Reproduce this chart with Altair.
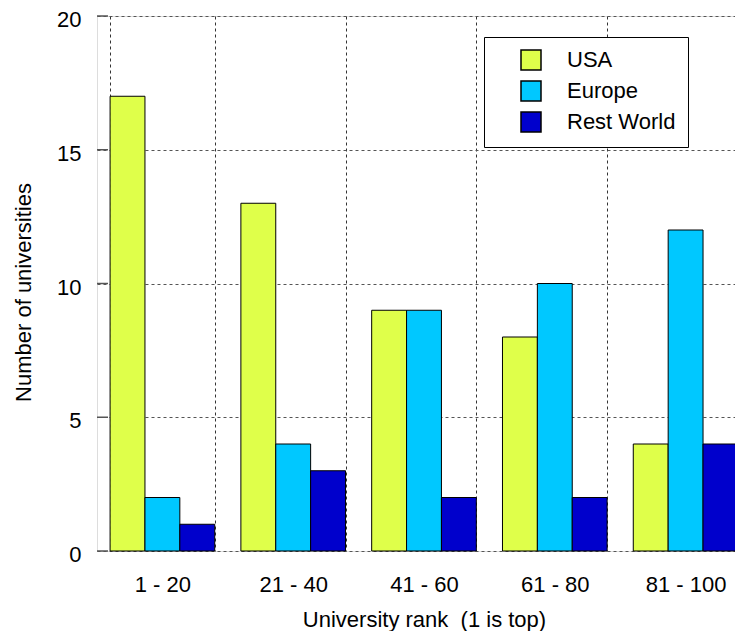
import altair as alt
import pandas as pd

ranks = ["1 - 20", "21 - 40", "41 - 60", "61 - 80", "81 - 100"]
regions = ["USA", "Europe", "Rest World"]
usa = [17, 13, 9, 8, 4]
europe = [2, 4, 9, 10, 12]
rest_world = [1, 3, 2, 2, 4]
y_ticks = [0, 5, 10, 15, 20]
colors = ["#DFFF4A", "#00C8FF", "#0000CC"]

rows = []
for i, r in enumerate(ranks):
    for reg, vals in zip(regions, [usa, europe, rest_world]):
        rows.append({"rank": r, "region": reg, "count": vals[i]})
df = pd.DataFrame(rows)
ticks_df = pd.DataFrame({"v": y_ticks})

FONT = "Liberation Sans"

bars = alt.Chart(df).mark_bar(stroke="black", strokeWidth=1, opacity=1).encode(
    x=alt.X("rank:N", sort=ranks,
            scale=alt.Scale(paddingInner=0.2, paddingOuter=0.1),
            axis=alt.Axis(title="University rank \u00a0(1 is top)", labelAngle=0,
                          grid=True, tickBand="extent", ticks=False, domain=False,
                          gridDash=[3, 3], gridColor="#333", gridWidth=1,
                          labelFontSize=22, labelFont=FONT, labelColor="black",
                          labelPadding=23, titleFont=FONT, titleFontSize=22,
                          titleFontWeight="normal", titleColor="black",
                          titlePadding=14)),
    xOffset=alt.XOffset("region:N", sort=regions,
                        scale=alt.Scale(paddingInner=0, paddingOuter=0)),
    y=alt.Y("count:Q",
            scale=alt.Scale(domain=[0, 20], nice=False),
            axis=alt.Axis(title="Number of universities", values=y_ticks,
                          grid=True, ticks=False, domain=False,
                          gridDash=[3, 3], gridColor="#555", gridWidth=1,
                          labelFontSize=22, labelFont=FONT, labelColor="black",
                          labelPadding=16, labelOffset=3.5, titleFont=FONT, titleFontSize=22,
                          titleFontWeight="normal", titleColor="black",
                          titlePadding=21, titleY=276)),
    color=alt.Color("region:N", sort=regions,
                    scale=alt.Scale(domain=regions, range=colors),
                    legend=alt.Legend(title=None, orient="none", legendX=387, legendY=21,
                                      strokeColor="black",
                                      fillColor="white", padding=12,
                                      symbolType="square", symbolSize=400,
                                      symbolStrokeColor="black", symbolStrokeWidth=1.5,
                                      symbolOpacity=1, symbolOffset=24,
                                      labelOffset=25, labelFontSize=22,
                                      labelFont=FONT, labelColor="black",
                                      rowPadding=5)),
)

tick_rules = alt.Chart(ticks_df).mark_rule(color="#555", strokeWidth=1.5).encode(
    x=alt.value(0), x2=alt.value(11), y=alt.Y("v:Q")
)

chart = alt.layer(bars, tick_rules).properties(
    width=654, height=535,
    autosize=alt.AutoSizeParams(type="none"),
    padding={"left": 89, "top": 8, "right": -16, "bottom": 80},
).configure_view(stroke="black", strokeWidth=1.2).configure_legend(
    strokeWidth=3
).configure(background="white")

chart.save("out.html", embed_options={"renderer": "svg", "actions": False})
